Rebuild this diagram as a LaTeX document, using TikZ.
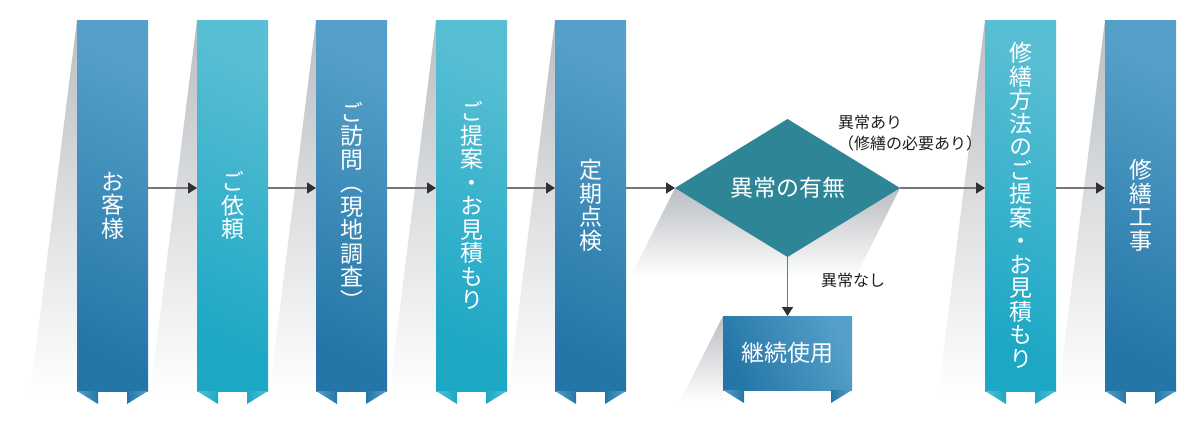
\documentclass[tikz,border=0pt]{standalone}
\usepackage{fontspec}
\newfontfamily\jp{Noto Sans CJK JP}
\newfontfamily\vjp{Noto Sans CJK JP}[RawFeature=+vert]
\usetikzlibrary{shapes.geometric, arrows.meta, positioning, backgrounds}

\definecolor{blueD}{RGB}{37,118,168}
\definecolor{blueL}{RGB}{84,160,200}
\definecolor{cyanD}{RGB}{28,167,197}
\definecolor{cyanL}{RGB}{88,190,211}
\definecolor{checkteal}{RGB}{46,133,149}
\definecolor{shadowgray}{RGB}{186,190,194}
\definecolor{linegray}{RGB}{118,118,118}
\definecolor{tipdark}{RGB}{48,48,48}
\definecolor{notetext}{RGB}{30,30,30}

\begin{document}
\begin{tikzpicture}[x=1pt, y=-1pt,
        band/.style     = {inner sep=0pt, outer sep=0pt, minimum width=71pt, minimum height=371pt,
                           align=center, text=white, font=\vjp\fontsize{23}{23.5}\selectfont},
        blueband/.style = {band, bottom color=blueD, top color=blueL, shading angle=-25},
        cyanband/.style = {band, bottom color=cyanD, top color=cyanL, shading angle=-25},
        boxband/.style  = {inner sep=0pt, outer sep=0pt, minimum width=129pt, minimum height=74pt,
                           text=white, font=\jp\fontsize{23}{23}\selectfont,
                           bottom color=blueD, top color=blueL, shading angle=-65},
        decision/.style = {diamond, fill=checkteal, inner sep=0pt, outer sep=0pt,
                           minimum width=225pt, minimum height=138pt,
                           text=white, font=\jp\fontsize{23}{23}\selectfont},
        note/.style     = {inner sep=0pt, align=left, text=notetext, font=\jp\fontsize{16}{21}\selectfont},
        flow/.style     = {draw=linegray, line width=1.6pt, -{Triangle[length=9pt, width=11pt, color=tipdark]}}]

    \useasboundingbox (0,0) rectangle (1189,432);

    % the banners, left to right
    \node[blueband] (s1) at (112.5,205.5) {お\\客\\様};
    \node[cyanband, right=49pt of s1] (s2) {ご\\依\\頼};
    \node[blueband, right=48pt of s2] (s3) {ご\\訪\\問\\（\\現\\地\\調\\査\\）};
    \node[cyanband, right=49pt of s3] (s4) {ご\\提\\案\\・\\お\\見\\積\\も\\り};
    \node[blueband, right=48pt of s4] (s5) {定\\期\\点\\検};

    % the check and its two outcomes
    \node[decision] (chk) at (787.5,188) {異常の有無};
    \node[boxband, below=59pt of chk] (cont) {継続使用};
    \node[cyanband] (s8) at (1020.5,205.5) {修\\繕\\方\\法\\の\\ご\\提\\案\\・\\お\\見\\積\\も\\り};
    \node[blueband, right=49pt of s8] (s9) {修\\繕\\工\\事};

    \node[note, anchor=north west] (yes) at (838,115) {異常あり\\（修繕の必要あり）};
    \node[note, anchor=west] (no) at (821,280) {異常なし};

    % ribbon tails under every banner
    \foreach \n/\col in {s1/blue, s2/cyan, s3/blue, s4/cyan, s5/blue, cont/blue, s8/cyan, s9/blue} {
        \shade[left color=\col L, right color=\col D] (\n.south west) -- ++(21,0) -- ++(0,13) -- cycle;
        \shade[left color=\col D, right color=\col L] (\n.south east) -- ++(-21,0) -- ++(0,13) -- cycle;
    }

    % slanted shadows behind
    \begin{scope}[on background layer]
    \foreach \n in {s1,s2,s3,s4,s5,s8,s9}
        \shade[top color=shadowgray, bottom color=white] (\n.north west) -- ([yshift=-4pt]\n.south west)
            -- ([xshift=-47pt, yshift=-4pt]\n.south west) -- cycle;
    \shade[top color=shadowgray, bottom color=white] (chk.west) -- (chk.east)
        -- ([xshift=-45pt, yshift=-90pt]chk.east) -- ([xshift=-45pt, yshift=-90pt]chk.west) -- cycle;
    \shade[top color=shadowgray, bottom color=white] (cont.north west) -- ([yshift=-13pt]cont.south west)
        -- ([xshift=-44pt, yshift=-13pt]cont.south west) -- cycle;
    \end{scope}

    % connectors
    \foreach \a/\b in {s1/s2, s2/s3, s3/s4, s4/s5, s8/s9}
        \draw[flow] ([yshift=17.5pt]\a.east) -- ([yshift=17.5pt]\b.west);
    \draw[flow] ([yshift=17.5pt]s5.east) -- (chk.west);
    \draw[flow] (chk.east) -- (chk.east -| s8.west);
    \draw[flow] (chk.south) -- (cont.north);

\end{tikzpicture}
\end{document}
